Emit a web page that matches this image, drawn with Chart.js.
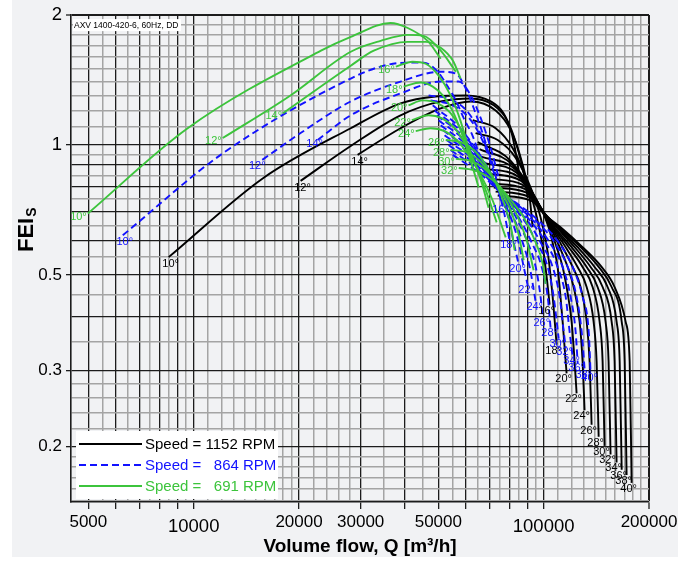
<!DOCTYPE html>
<html>
<head>
<meta charset="utf-8">
<title>FEI vs volume flow</title>
<script src="https://cdn.jsdelivr.net/npm/chart.js@4.4.1/dist/chart.umd.min.js"></script>
<style>
  html, body { margin: 0; padding: 0; background: #fff; }
  #wrap { width: 693px; height: 561px; }
</style>
</head>
<body>
<div id="wrap"><canvas id="feiChart" width="693" height="561"></canvas></div>
<script>
// ---- values: [Q m3/h, FEI] ----
const speeds = [1152, 864, 691];
const xTickLabels = [5000, 10000, 20000, 30000, 50000, 100000, 200000];
const yTickLabels = [0.2, 0.3, 0.5, 1, 2];
const xMajorGrid = [5000, 6000, 7000, 8000, 9000, 10000, 20000, 30000, 40000, 50000, 60000, 70000, 80000, 90000, 100000, 200000];
const xMinorGrid = [5500, 6500, 7500, 8500, 9500, 11000, 12000, 13000, 14000, 15000, 16000, 17000, 18000, 19000,
  22000, 24000, 26000, 28000, 35000, 45000, 55000, 65000, 75000, 85000, 95000,
  110000, 120000, 130000, 140000, 150000, 160000, 170000, 180000, 190000];
const yMajorGrid = [0.2, 0.3, 0.4, 0.5, 0.6, 0.7, 0.8, 0.9, 1, 2];
const yMinorGrid = [0.15, 0.16, 0.17, 0.18, 0.19, 0.22, 0.24, 0.26, 0.28, 0.35, 0.45, 0.55, 0.65, 0.75, 0.85, 0.95,
  1.1, 1.2, 1.3, 1.4, 1.5, 1.6, 1.7, 1.8, 1.9];

// 1152 RPM
const angles1152 = [10, 12, 14, 16, 18, 20, 22, 24, 26, 28, 30, 32, 34, 36, 38, 40];
const c1152_10 = [[8480, 0.550], [15850, 0.840], [28100, 1.094], [39000, 1.249], [49100, 1.296], [59900, 1.303], [70600, 1.262], [76800, 1.185], [81000, 1.066], [83700, 0.934], [85400, 0.840]];
const c1152_12 = [[20200, 0.826], [28100, 0.995], [39000, 1.172], [50800, 1.262], [61900, 1.282], [72000, 1.236], [78900, 1.136], [83700, 1.000], [87700, 0.862], [90000, 0.756]];
const c1152_14 = [[29400, 0.949], [39000, 1.094], [50800, 1.216], [61900, 1.262], [72900, 1.203], [80500, 1.083], [86500, 0.919], [91200, 0.756], [93000, 0.645]];
const c1152_16 = [[62700, 1.142], [72900, 1.094], [81500, 0.984], [88800, 0.840], [94900, 0.698], [99400, 0.580], [102000, 0.495], [104000, 0.427]];
const c1152_18 = [[63900, 1.066], [73900, 1.027], [83200, 0.934], [91800, 0.797], [98000, 0.680], [102700, 0.565], [106100, 0.445], [108900, 0.345]];
const c1152_20 = [[64800, 1.016], [80500, 0.919], [98000, 0.716], [103300, 0.645], [106800, 0.580], [109600, 0.522], [111100, 0.469], [113300, 0.390], [115600, 0.315], [116300, 0.296]];
const c1152_22 = [[65600, 0.979], [81500, 0.900], [98400, 0.713], [104000, 0.645], [108900, 0.580], [113300, 0.522], [116300, 0.469], [120200, 0.390], [122600, 0.315], [124200, 0.266]];
const c1152_24 = [[66500, 0.939], [82600, 0.881], [98700, 0.709], [104700, 0.645], [111100, 0.580], [117100, 0.522], [121800, 0.469], [126700, 0.390], [129200, 0.315], [130900, 0.243]];
const c1152_26 = [[67400, 0.909], [83700, 0.862], [99000, 0.707], [105400, 0.645], [113300, 0.580], [121000, 0.522], [127500, 0.469], [132700, 0.390], [135300, 0.315], [137100, 0.225]];
const c1152_28 = [[68300, 0.881], [84800, 0.844], [99400, 0.705], [106100, 0.645], [115600, 0.580], [125000, 0.522], [132700, 0.469], [138900, 0.390], [141700, 0.315], [143600, 0.211]];
const c1152_30 = [[69200, 0.858], [86000, 0.827], [99700, 0.701], [106800, 0.645], [117900, 0.580], [129200, 0.522], [138000, 0.469], [144500, 0.390], [147400, 0.315], [149300, 0.201]];
const c1152_32 = [[70100, 0.835], [87100, 0.809], [100000, 0.698], [107500, 0.645], [120200, 0.580], [132700, 0.522], [142600, 0.469], [150300, 0.390], [153300, 0.315], [155300, 0.192]];
const c1152_34 = [[71000, 0.814], [88200, 0.792], [100300, 0.696], [108900, 0.645], [122600, 0.580], [136200, 0.522], [147400, 0.469], [156400, 0.390], [159500, 0.315], [161600, 0.184]];
const c1152_36 = [[72000, 0.797], [89400, 0.776], [100700, 0.694], [109600, 0.645], [125000, 0.580], [139800, 0.522], [152300, 0.469], [161600, 0.390], [164900, 0.315], [167100, 0.177]];
const c1152_38 = [[72900, 0.780], [90600, 0.760], [101000, 0.690], [110400, 0.645], [127500, 0.580], [143600, 0.522], [156400, 0.469], [167100, 0.390], [170400, 0.315], [172600, 0.172]];
const c1152_40 = [[73900, 0.764], [91800, 0.744], [101300, 0.687], [111800, 0.645], [129200, 0.580], [146400, 0.522], [159500, 0.469], [171500, 0.390], [176100, 0.315], [178400, 0.165]];

// 864 RPM
const angles864 = [10, 12, 14, 16, 18, 20, 22, 24, 26, 28, 30, 32, 34, 36, 38, 40];
const c864_10 = [[6270, 0.618], [11940, 0.949], [28100, 1.426], [34900, 1.527], [40900, 1.552], [45400, 1.552], [49800, 1.479], [53200, 1.366], [56100, 1.269], [59100, 1.154], [62700, 1.049], [65200, 0.959]];
const c864_12 = [[15700, 0.924], [20200, 1.066], [28100, 1.262], [39000, 1.403], [50800, 1.479], [56100, 1.464], [59900, 1.352], [63900, 1.185], [68300, 1.011], [71500, 0.885]];
const c864_14 = [[22600, 1.027], [28100, 1.172], [39000, 1.317], [50800, 1.403], [57200, 1.403], [61900, 1.303], [66100, 1.154], [70600, 0.984], [74400, 0.840]];
const c864_16 = [[46900, 1.303], [54200, 1.276], [61100, 1.185], [66900, 1.038], [72000, 0.885], [75800, 0.728]];
const c864_18 = [[47500, 1.269], [55000, 1.236], [61900, 1.142], [68300, 0.984], [73400, 0.818], [77300, 0.690], [79900, 0.602]];
const c864_20 = [[48200, 1.236], [58700, 1.077], [72900, 0.818], [76800, 0.736], [79900, 0.662], [82100, 0.595], [84800, 0.530]];
const c864_22 = [[48800, 1.203], [59500, 1.052], [73100, 0.814], [77300, 0.736], [81500, 0.662], [84800, 0.595], [87700, 0.522], [90000, 0.474]];
const c864_24 = [[49500, 1.172], [60300, 1.027], [73400, 0.809], [77900, 0.736], [83200, 0.662], [87100, 0.595], [91200, 0.522], [94900, 0.433]];
const c864_26 = [[50100, 1.142], [61100, 1.003], [73600, 0.805], [78900, 0.736], [84800, 0.662], [90000, 0.595], [94900, 0.522], [98000, 0.445], [99400, 0.398]];
const c864_28 = [[50800, 1.112], [61900, 0.979], [73900, 0.801], [79400, 0.736], [86500, 0.662], [92400, 0.595], [98700, 0.522], [102700, 0.445], [104700, 0.376]];
const c864_30 = [[51500, 1.083], [62700, 0.956], [74100, 0.797], [79900, 0.736], [88800, 0.662], [95500, 0.595], [102700, 0.522], [106800, 0.445], [110400, 0.356]];
const c864_32 = [[52100, 1.054], [63500, 0.934], [74400, 0.792], [80500, 0.736], [90600, 0.662], [98000, 0.595], [106100, 0.522], [111100, 0.445], [114100, 0.370], [115600, 0.340]];
const c864_34 = [[52800, 1.027], [64400, 0.912], [74600, 0.788], [81000, 0.736], [92400, 0.662], [101300, 0.595], [109600, 0.522], [115600, 0.445], [118600, 0.370], [121000, 0.324]];
const c864_36 = [[53500, 1.000], [65200, 0.890], [74900, 0.784], [82100, 0.736], [94300, 0.662], [104000, 0.595], [113300, 0.522], [119400, 0.445], [123400, 0.370], [125100, 0.312]];
const c864_38 = [[54200, 0.974], [66100, 0.869], [75100, 0.780], [82600, 0.736], [96100, 0.662], [107500, 0.595], [117100, 0.522], [124200, 0.445], [128400, 0.370], [131000, 0.301]];
const c864_40 = [[55000, 0.949], [66900, 0.849], [75400, 0.776], [83200, 0.736], [98000, 0.662], [110400, 0.595], [121000, 0.522], [129200, 0.445], [134500, 0.370], [136200, 0.296]];

// 691 RPM
const angles691 = [10, 12, 14, 16, 18, 20, 22, 24, 26, 28, 30, 32];
const c691_10 = [[4980, 0.694], [9610, 1.094], [23100, 1.654], [28100, 1.781], [36500, 1.918], [40900, 1.867], [46600, 1.743], [50800, 1.585]];
const c691_12 = [[12100, 1.038], [18900, 1.303], [28100, 1.645], [34200, 1.743], [40900, 1.800], [45400, 1.790], [50800, 1.654], [56100, 1.479]];
const c691_14 = [[18000, 1.185], [28100, 1.527], [32700, 1.654], [40900, 1.734], [46000, 1.734], [50800, 1.680], [55000, 1.569], [57900, 1.426]];
const c691_16 = [[37800, 1.519], [42200, 1.560], [46000, 1.543], [50100, 1.448], [54200, 1.303], [57900, 1.136], [60300, 1.011], [61900, 0.909]];
const c691_18 = [[39800, 1.366], [44500, 1.396], [48200, 1.366], [51500, 1.303], [55000, 1.197], [58300, 1.066], [61900, 0.919], [65200, 0.797]];
const c691_20 = [[41100, 1.236], [45100, 1.269], [49800, 1.249], [54200, 1.185], [58700, 1.066], [62700, 0.934], [66500, 0.818], [69600, 0.716]];
const c691_22 = [[42000, 1.142], [46900, 1.172], [51100, 1.154], [55700, 1.094], [59900, 1.000], [64400, 0.885], [68700, 0.776], [73400, 0.662]];
const c691_24 = [[43100, 1.077], [47500, 1.094], [52100, 1.077], [56400, 1.027], [61100, 0.949], [66100, 0.853], [71500, 0.744], [77900, 0.611]];
const c691_26 = [[52500, 1.027], [57900, 1.016], [63100, 0.974], [68300, 0.900], [73400, 0.809], [77900, 0.716], [81000, 0.634], [82600, 0.571]];
const c691_28 = [[54200, 0.974], [59900, 0.964], [65200, 0.924], [70100, 0.862], [75400, 0.784], [80500, 0.705], [84800, 0.621], [87700, 0.541]];
const c691_30 = [[56100, 0.929], [61900, 0.919], [67400, 0.885], [72400, 0.831], [77900, 0.764], [83700, 0.690], [89400, 0.602], [93600, 0.513]];
const c691_32 = [[57200, 0.885], [62700, 0.876], [68700, 0.849], [74400, 0.805], [80500, 0.747], [87700, 0.680], [94900, 0.595], [99400, 0.530], [101300, 0.477]];

const curves1152 = [c1152_10, c1152_12, c1152_14, c1152_16, c1152_18, c1152_20, c1152_22, c1152_24, c1152_26, c1152_28, c1152_30, c1152_32, c1152_34, c1152_36, c1152_38, c1152_40];
const curves864 = [c864_10, c864_12, c864_14, c864_16, c864_18, c864_20, c864_22, c864_24, c864_26, c864_28, c864_30, c864_32, c864_34, c864_36, c864_38, c864_40];
const curves691 = [c691_10, c691_12, c691_14, c691_16, c691_18, c691_20, c691_22, c691_24, c691_26, c691_28, c691_30, c691_32];

// ---- styling ----
const FONT = '"Liberation Sans", Arial, Helvetica, sans-serif';
const BLUE = '#1212ff';
const GREEN = '#3cc43c';
const DARK = '#1c1c1c';
const GREY = '#a4a4a4';

const groups = [
  { speed: speeds[0], angles: angles1152, curves: curves1152, color: '#000000', dash: [], order: 3 },
  { speed: speeds[1], angles: angles864, curves: curves864, color: BLUE, dash: [7, 4], order: 2 },
  { speed: speeds[2], angles: angles691, curves: curves691, color: GREEN, dash: [], order: 1 }
];

// where the angle label of a curve sits
function labelTag(speed, angle) {
  const text = angle + '°';
  if (speed === 691) return { text, at: 'start', align: 'right', dx: -1, dy: 3 };
  if (angle <= 14) {
    if (speed === 864 && angle === 12) return { text, at: 'start', align: 'center', dx: -5, dy: 6 };
    if (speed === 864 && angle === 14) return { text, at: 'start', align: 'center', dx: -3, dy: 4 };
    return { text, at: 'start', align: 'center', dx: 2, dy: 7 };
  }
  if (speed === 864) return { text, at: 'end', align: 'center', dx: -1, dy: 5 };
  return { text, at: 'end', align: 'center', dx: -3, dy: 6 };
}

const datasets = [];
groups.forEach(g => {
  g.curves.forEach((pts, i) => {
    datasets.push({
      data: pts.map(p => ({ x: p[0], y: p[1] })),
      showLine: true,
      borderColor: g.color,
      borderWidth: 1.9,
      borderDash: g.dash,
      pointRadius: 0,
      pointHoverRadius: 0,
      fill: false,
      cubicInterpolationMode: 'monotone',
      order: g.order,
      tag: labelTag(g.speed, g.angles[i])
    });
  });
});

const xGrid = xMajorGrid.concat(xMinorGrid).sort((a, b) => a - b);
const yGrid = yMajorGrid.concat(yMinorGrid).sort((a, b) => a - b);
const has = (list, v) => list.indexOf(v) !== -1;
const tickVal = (c) => (c && c.tick ? c.tick.value : null);

// background panel
const panelBg = {
  id: 'panelBg',
  beforeDraw(chart) {
    const ctx = chart.ctx;
    ctx.save();
    ctx.fillStyle = '#ffffff';
    ctx.fillRect(0, 0, chart.width, chart.height);
    ctx.fillStyle = '#f1f2f4';
    ctx.fillRect(12, 0, 666, 557);
    ctx.restore();
  }
};

// angle labels on the curves
const curveLabels = {
  id: 'curveLabels',
  afterDatasetsDraw(chart) {
    const ctx = chart.ctx;
    ctx.save();
    ctx.font = '11px ' + FONT;
    ctx.textBaseline = 'middle';
    chart.data.datasets.forEach((ds, i) => {
      const pts = chart.getDatasetMeta(i).data;
      if (!pts.length) return;
      const p = ds.tag.at === 'start' ? pts[0] : pts[pts.length - 1];
      ctx.fillStyle = ds.borderColor;
      ctx.textAlign = ds.tag.align;
      ctx.fillText(ds.tag.text, p.x + ds.tag.dx, p.y + ds.tag.dy);
    });
    ctx.restore();
  }
};

// legend box, model note and y title
const extras = {
  id: 'extras',
  afterDraw(chart) {
    const ctx = chart.ctx;
    const a = chart.chartArea;
    ctx.save();

    // model note
    ctx.fillStyle = '#ffffff';
    ctx.fillRect(a.left + 2, a.top + 4, 108, 12);
    ctx.fillStyle = '#000';
    ctx.font = '8.5px ' + FONT;
    ctx.textBaseline = 'middle';
    ctx.textAlign = 'left';
    ctx.fillText('AXV 1400-420-6, 60Hz, DD', a.left + 3, a.top + 10.5);

    // legend
    const x0 = a.left + 5, y0 = a.bottom - 71;
    ctx.fillStyle = '#ffffff';
    ctx.fillRect(x0, y0, 202, 68);
    const rows = [
      { text: 'Speed = ' + speeds[0] + ' RPM', color: '#000000', dash: [] },
      { text: 'Speed =   ' + speeds[1] + ' RPM', color: BLUE, dash: [7, 4] },
      { text: 'Speed =   ' + speeds[2] + ' RPM', color: GREEN, dash: [] }
    ];
    ctx.font = '15px ' + FONT;
    rows.forEach((r, i) => {
      const y = y0 + 13 + i * 21;
      ctx.strokeStyle = r.color;
      ctx.lineWidth = 2;
      ctx.setLineDash(r.dash);
      ctx.beginPath();
      ctx.moveTo(x0 + 3, y);
      ctx.lineTo(x0 + 66, y);
      ctx.stroke();
      ctx.setLineDash([]);
      ctx.fillStyle = r.color;
      ctx.fillText(r.text, x0 + 69, y + 1);
    });

    // y axis title FEI with subscript S
    ctx.translate(33, 252);
    ctx.rotate(-Math.PI / 2);
    ctx.fillStyle = '#000';
    ctx.textBaseline = 'alphabetic';
    ctx.font = 'bold 22px ' + FONT;
    ctx.fillText('FEI', 0, 0);
    const w = ctx.measureText('FEI').width;
    ctx.font = 'bold 14px ' + FONT;
    ctx.fillText('S', w + 1, 3);
    ctx.restore();
  }
};

new Chart(document.getElementById('feiChart'), {
  type: 'scatter',
  data: { datasets: datasets },
  options: {
    responsive: false,
    maintainAspectRatio: false,
    animation: false,
    devicePixelRatio: 1,
    events: [],
    layout: { padding: { left: 0, top: 11, right: 44, bottom: 0 } },
    plugins: { legend: { display: false }, tooltip: { enabled: false } },
    scales: {
      x: {
        type: 'logarithmic',
        min: 4460,
        max: 200000,
        afterBuildTicks: (axis) => { axis.ticks = xGrid.map(v => ({ value: v })); },
        afterFit: (axis) => { axis.height = 59; },
        ticks: {
          autoSkip: false,
          maxRotation: 0,
          padding: 3,
          color: '#000',
          callback: (v) => has(xTickLabels, v) ? String(v) : '',
          font: (c) => (tickVal(c) === 10000 || tickVal(c) === 100000)
            ? { size: 18.5, family: FONT, lineHeight: '30px' }
            : { size: 17, family: FONT, lineHeight: '20px' }
        },
        grid: {
          color: (c) => has(xMajorGrid, tickVal(c)) ? DARK : GREY,
          lineWidth: (c) => tickVal(c) === 200000 ? 2 : (has(xMajorGrid, tickVal(c)) ? 1.3 : 1.5),
          tickColor: (c) => has(xMajorGrid, tickVal(c)) ? DARK : 'rgba(0,0,0,0)',
          tickWidth: 1.3,
          tickLength: 7
        },
        border: { display: true, color: DARK, width: 1.6 },
        title: {
          display: true,
          text: 'Volume flow, Q [m³/h]',
          color: '#000',
          font: { size: 19, weight: 'bold', family: FONT },
          padding: { top: 0, bottom: 3 }
        }
      },
      y: {
        type: 'logarithmic',
        min: 0.149,
        max: 2,
        afterBuildTicks: (axis) => { axis.ticks = yGrid.map(v => ({ value: v })); },
        afterFit: (axis) => { axis.width = 71; },
        ticks: {
          autoSkip: false,
          padding: 4,
          color: '#000',
          callback: (v) => has(yTickLabels, v) ? String(v) : '',
          font: (c) => (tickVal(c) >= 1) ? { size: 18.5, family: FONT } : { size: 17, family: FONT }
        },
        grid: {
          color: (c) => has(yMajorGrid, tickVal(c)) ? DARK : GREY,
          lineWidth: (c) => tickVal(c) === 2 ? 2 : (has(yMajorGrid, tickVal(c)) ? 1.3 : 1.5),
          tickColor: (c) => has(yTickLabels, tickVal(c)) ? DARK : 'rgba(0,0,0,0)',
          tickWidth: 1.3,
          tickLength: 5
        },
        border: { display: true, color: DARK, width: 1.6 },
        title: { display: false }
      }
    }
  },
  plugins: [panelBg, curveLabels, extras]
});
</script>
</body>
</html>
